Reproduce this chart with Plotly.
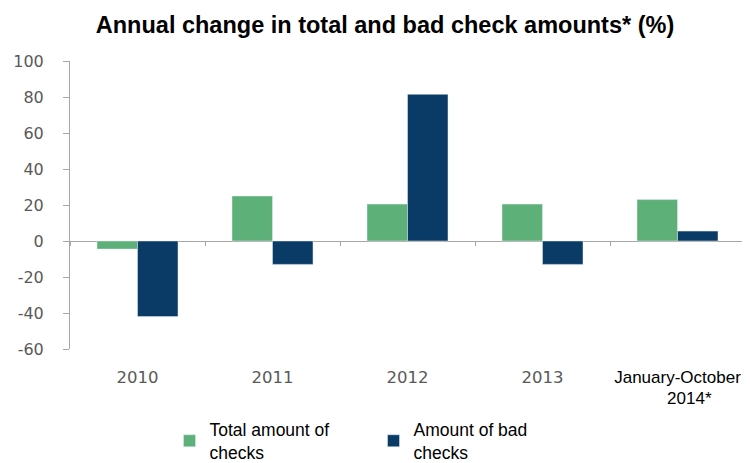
import plotly.graph_objects as go

NB = "\u00a0"
categories = ["2010", "2011", "2012", "2013",
              "<span style='color:#000000;font-family:Liberation Sans, Arial;font-size:17px'>January-October<br>"
              + NB * 5 + "2014*</span>"]
total_checks = [-4.5, 25, 20.5, 20.5, 23]
bad_checks = [-42, -13, 81.5, -13, 5.5]
series_names = ["Total amount of<br>checks", "Amount of bad<br>checks"]
y_ticks = [100, 80, 60, 40, 20, 0, -20, -40, -60]
y_tick_labels = ["100", "80", "60", "40", "20", "0", "-20", "-40", "-60"]
y_min, y_max = -60, 100

GREEN = "#5DB077"
NAVY = "#0A3A66"
AXIS = "#A6A6A6"

# The page body adds an 8px offset; the figure is sized to fit the window.
W, H = 742, 455

fig = go.Figure()
fig.add_trace(go.Bar(x=categories, y=total_checks, name=series_names[0], marker_color=GREEN))
fig.add_trace(go.Bar(x=categories, y=bad_checks, name=series_names[1], marker_color=NAVY))
# invisible helper trace so the category axis drawn along zero gets its boundary ticks
fig.add_trace(go.Bar(x=categories, y=[0] * len(categories), xaxis="x2", opacity=0,
                     showlegend=False, hoverinfo="skip"))

fig.update_layout(
    width=W, height=H,
    margin=dict(l=62, r=5, t=53, b=114, autoexpand=False),
    paper_bgcolor="white", plot_bgcolor="white",
    barmode="group", bargap=0.4, bargroupgap=0,
    title=dict(text="<b>Annual change in total and bad check amounts* (%)</b>",
               x=377 / W, xanchor="center", y=1 - 17 / H, yanchor="middle",
               font=dict(family="Liberation Sans, Arial", size=23.5, color="#000000")),
    legend=dict(orientation="h", x=0.1474, xanchor="left",
                yref="container", y=1 - 433 / H, yanchor="middle",
                font=dict(family="Liberation Sans, Arial", size=17.5, color="#000000"),
                itemwidth=30, entrywidth=159, entrywidthmode="pixels",
                traceorder="normal"),
    showlegend=True,
    xaxis2=dict(overlaying="x", matches="x", anchor="free",
                position=(0 - y_min) / (y_max - y_min),
                showticklabels=False, showgrid=False, showline=False,
                ticks="outside", tickson="boundaries", ticklen=4, tickcolor=AXIS,
                automargin=False),
)
fig.update_xaxes(selector=dict(overlaying=None))
fig.layout.xaxis.update(showgrid=False, showline=False, ticks="", automargin=False,
                        tickfont=dict(family="DejaVu Sans", size=16.5, color="#595959"),
                        ticklabelstandoff=16)
fig.update_yaxes(range=[y_min, y_max], tickvals=y_ticks, ticktext=y_tick_labels,
                 showgrid=False, automargin=False,
                 showline=True, linecolor=AXIS, linewidth=1,
                 ticks="outside", ticklen=6, tickcolor=AXIS,
                 zeroline=True, zerolinecolor=AXIS, zerolinewidth=1,
                 tickfont=dict(family="DejaVu Sans", size=16, color="#595959"),
                 ticklabelstandoff=16)

fig.write_html("out.html")
